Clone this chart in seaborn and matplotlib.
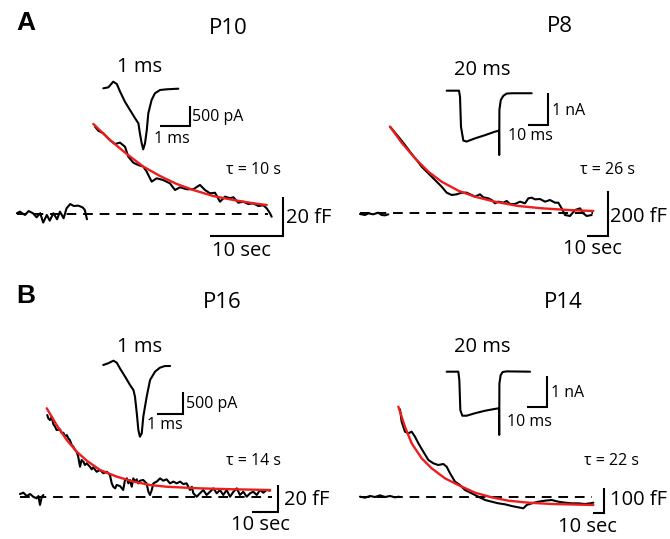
import matplotlib
matplotlib.use("Agg")
import matplotlib.pyplot as plt
import seaborn as sns

# ---------------------------------------------------------------
# Data (time in s, capacitance change in fF;
# inset currents: time in ms, current in pA or nA)
# ---------------------------------------------------------------

# P10
p10_pre_t = [-10.7, -10.3, -9.6, -9.1, -8.5, -8.0, -7.5, -7.1, -6.6, -6.2, -5.7,
             -5.2, -4.8, -4.3, -3.9, -3.4, -2.9, -2.3, -1.7, -1.4, -1.1]
p10_pre_c = [0.4, 1.2, -0.5, 1.5, 0.4, -1.7, 0.4, -4.4, -0.5, -3.4, 0.4,
             -2.7, 1.2, -2.2, 2.9, 5.1, 4.1, 4.3, 3.4, 2.1, -2.7]
p10_t = [0, 0.45, 1.14, 2.05, 2.74, 3.42, 4.11, 4.56, 5.25, 5.93, 6.62, 7.08, 7.76,
         8.45, 9.36, 10.27, 10.96, 11.64, 12.56, 13.47, 14.38, 15.07, 15.75, 16.44,
         17.12, 17.81, 18.49, 18.95, 19.63, 20.32, 21.0, 21.68, 22.37, 23.05, 23.52,
         23.97, 24.2]
p10_c = [44.8, 42.7, 41.4, 37.9, 35.9, 36.6, 34.5, 29.4, 26.3, 25.1, 24.3, 21.7, 16.6,
         18.3, 17.4, 15.7, 12.3, 13.7, 12.7, 12.7, 14.9, 12.3, 10.6, 10.9,
         6.3, 8.9, 8.1, 8.6, 5.8, 6.3, 5.1, 5.5, 4.1, 4.5, 2.9, 0.4, -1.4]
p10_fit_t = [-0.23, 2.05, 4.34, 6.62, 8.9, 11.19, 13.47, 16.21, 18.95, 21.68, 23.52]
p10_fit_c = [46.2, 37.9, 30.8, 24.3, 19.5, 15.4, 12.3, 9.2, 7.2, 5.5, 4.6]
p10_ins_t = [0.01, 0.18, 0.34, 0.46, 0.57, 0.73, 0.9, 1.07, 1.18, 1.23, 1.29, 1.34,
             1.4, 1.46, 1.51, 1.62, 1.73, 1.9, 2.12, 2.51]
p10_ins_i = [-8, 17, 158, 100, -92, -342, -550, -758, -883, -1133, -1383, -1533,
             -1383, -1050, -633, -300, -133, -50, -33, -17]

# P8
p8_pre_t = [-14.3, -11.9, -10.3, -8.0, -5.6, -4.0, -2.4, -0.8]
p8_pre_c = [-4.4, -8.9, -1.5, -5.9, 1.5, -8.9, -10.4, -5.9]
p8_t = [0, 1.59, 3.97, 7.14, 10.32, 12.7, 15.08, 17.46, 19.84, 22.22, 24.6, 26.98,
        29.37, 31.75, 34.13, 36.51, 38.89, 40.48, 42.86, 44.44, 46.83, 48.41, 50.0,
        51.59, 53.97, 55.56, 57.14, 59.52, 61.9, 64.29, 65.87, 67.46, 69.05, 71.43,
        73.81, 76.19, 78.57, 80.16, 81.75, 83.33, 85.71, 88.1, 90.48, 92.06, 93.65,
        96.03]
p8_c = [383.6, 365.9, 339.3, 302.2, 262.2, 235.6, 205.9, 183.7, 161.5, 139.3, 117.0,
        90.4, 80.0, 83.0, 90.4, 90.4, 80.0, 72.6, 83.0, 69.6, 65.2, 57.8, 43.0, 50.4,
        45.9, 53.3, 40.0, 40.0, 50.4, 43.0, 65.2, 68.1, 60.7, 62.2, 50.4, 57.8, 45.9,
        45.9, 20.7, -8.9, -13.3, 13.3, 20.7, -1.5, -13.3, -8.9]
p8_fit_t = [0, 5.56, 11.9, 18.25, 24.6, 32.54, 40.48, 50.0, 61.11, 72.22, 84.92, 96.83]
p8_fit_c = [383.6, 312.4, 243.1, 183.6, 139.1, 99.1, 72.4, 50.2, 31.1, 20.9, 13.3, 8.9]
p8_ins_t = [-0.17, 6.0, 6.5, 7.0, 8.17, 9.83, 14.0, 19.0, 24.0, 26.0, 26.1, 26.2,
            26.9, 28.17, 29.83, 32.5, 42.33]
p8_ins_i = [0.01, 0.01, -0.18, -1.12, -1.55, -1.58, -1.48, -1.38, -1.27, -1.24, -2.0,
            -0.59, -0.28, -0.15, -0.08, -0.07, -0.07]

# P16
p16_pre_t = [-10.4, -9.1, -7.8, -6.5, -5.3, -4.0, -3.3, -2.7, -2.0, -1.4]
p16_pre_c = [2.2, 3.2, 0.7, 2.2, 0.2, -1.0, 0.7, -5.9, 0.2, 1.5]
p16_t = [0.1, 0.5, 1.15, 1.8, 2.4, 3.1, 3.7, 5.0, 5.7, 6.3, 6.9, 7.6, 8.2, 8.8, 9.5,
         10.1, 10.8, 11.4, 12.0, 12.7, 13.3, 14.0, 14.6, 15.3, 16.5, 17.2, 17.8, 19.1,
         20.4, 21.7, 23.0, 24.2, 24.9, 25.5, 26.2, 26.8, 28.1, 29.3, 30.0, 30.7, 31.3,
         31.9, 32.6, 33.2, 33.8, 34.5, 35.1, 35.8, 37.0, 38.3, 39.0, 39.6, 40.3, 40.9,
         42.2, 43.5, 44.7, 46.0, 47.3, 48.6, 49.9, 51.2, 52.4, 53.7, 55.0, 55.7, 56.3,
         57.6, 58.8, 60.1, 61.4, 62.7, 64.0, 65.3, 66.5, 67.8, 69.1, 70.4, 71.7, 73.0,
         74.2, 75.5, 76.8, 78.1, 79.3, 80.7, 81.9, 83.2, 84.5, 85.8]
p16_c = [60.7, 58.3, 57.0, 59.5, 54.1, 52.1, 49.6, 50.1, 47.2, 47.6, 44.7, 45.9, 43.5,
         42.2, 38.5, 37.3, 34.8, 33.6, 29.9, 22.4, 27.4, 26.1, 23.7, 25.0, 22.4, 20.5,
         22.0, 18.7, 20.0, 17.6, 18.7, 16.3, 10.1, 7.6, 6.4, 8.9, 8.1, 5.2, 12.6, 13.8,
         10.1, 12.6, 7.6, 13.8, 11.4, 13.1, 10.1, 12.1, 12.6, 10.1, 3.9, 1.5, 5.2, 10.1,
         11.4, 13.8, 12.1, 13.1, 10.1, 11.4, 10.1, 11.4, 9.6, 10.1, 5.2, 7.6, 2.7, 0.2,
         2.7, 5.2, 1.5, 3.9, 6.4, 2.7, 5.2, 1.5, 5.2, 0.2, 3.9, 6.4, 1.5, 3.9, 0.2, 2.7,
         3.9, 1.5, 5.2, 3.2, 5.2, 4.7]
p16_fit_t = [-0.1, 3.7, 7.6, 11.4, 15.3, 20.4, 26.8, 33.2, 39.6, 46.0, 58.8, 71.7, 85.8]
p16_fit_c = [65.7, 53.3, 42.2, 33.6, 26.9, 20.0, 15.1, 11.4, 8.9, 7.6, 6.4, 5.7, 5.2]
p16_ins_t = [0.01, 0.2, 0.4, 0.53, 0.65, 0.85, 1.04, 1.17, 1.23, 1.3, 1.36, 1.42,
             1.49, 1.55, 1.68, 1.81, 2.0, 2.19, 2.38, 2.58]
p16_ins_i = [0, 39, 98, 52, -75, -266, -455, -568, -720, -1098, -1477, -1629,
             -1553, -1174, -720, -341, -152, -61, -23, -23]

# P14
p14_pre_t = [-36.4, -31.8, -27.3, -22.7, -18.2, -13.6, -9.1, -4.5, -0.9]
p14_pre_c = [1.3, -2.7, 4.0, 0, 6.7, 0, 4.0, -1.3, 1.3]
p14_t = [0, 1.5, 4.5, 7.6, 10.6, 13.6, 16.7, 21.2, 25.8, 30.3, 34.8, 39.4, 42.4,
         45.5, 50.0, 54.5, 59.1, 65.2, 71.2, 77.3, 83.3, 89.4, 95.5, 101.5, 107.6,
         112.1, 115.2, 119.7, 125.8, 131.8, 137.9, 143.9, 150.0, 156.1, 162.1, 168.2,
         172.7, 175.8]
p14_c = [350.7, 301.3, 261.3, 254.7, 261.3, 241.3, 214.7, 181.3, 148.0, 134.7, 128.0,
         132.0, 121.3, 94.7, 61.3, 48.0, 28.0, 14.7, 1.3, -12.0, -18.7, -25.3, -29.3,
         -36.0, -41.3, -45.3, -32.0, -25.3, -18.7, -14.7, -12.0, -18.7, -22.7, -25.3,
         -25.3, -28.0, -25.3, -22.7]
p14_fit_t = [-1.5, 4.5, 10.6, 19.7, 28.8, 40.9, 53.0, 68.2, 83.3, 98.5, 116.7, 137.9, 175.8]
p14_fit_c = [361.3, 281.3, 214.7, 154.7, 114.7, 74.7, 48.0, 17.3, -1.3, -14.7, -22.7,
             -28.0, -32.0]
p14_ins_t = [-0.17, 5.67, 6.17, 6.67, 7.67, 9.83, 14.0, 19.0, 24.0, 26.0, 26.1, 26.2,
             26.83, 27.83, 29.83, 41.5]
p14_ins_i = [0.01, 0.01, -0.26, -1.23, -1.41, -1.41, -1.33, -1.25, -1.19, -1.17, -2.03,
             -0.37, -0.1, 0, 0.02, 0.01]

titles = ["P10", "P8", "P16", "P14"]
taus = ["τ = 10 s", "τ = 26 s", "τ = 14 s", "τ = 22 s"]
cap_bars = ["20 fF", "200 fF", "20 fF", "100 fF"]
cap_bar_size = [20, 200, 20, 100]
cur_bars = ["500 pA", "1 nA", "500 pA", "1 nA"]
cur_bar_size = [500, 1, 500, 1]
cur_time_bars = ["1 ms", "10 ms", "1 ms", "10 ms"]
cur_time_size = [1, 10, 1, 10]
ins_titles = ["1 ms", "20 ms", "1 ms", "20 ms"]
time_bar_size = 10

# ---------------------------------------------------------------
# Layout (pixels of the 670 x 539 image)
# ---------------------------------------------------------------
W, H = 670, 539
sns.set_theme(style="white")
plt.rcParams["font.family"] = ["Open Sans", "DejaVu Sans"]
plt.rcParams["text.color"] = "black"

fig = plt.figure(figsize=(W / 100, H / 100), dpi=100)


def px_axes(box, origin, scale):
    # axes whose data (0, 0) sits at pixel `origin`, with `scale` px per unit
    left, top, right, bottom = box
    ox, oy = origin
    sx, sy = scale
    ax = fig.add_axes([left / W, 1 - bottom / H, (right - left) / W, (bottom - top) / H])
    ax.set_xlim((left - ox) / sx, (right - ox) / sx)
    ax.set_ylim((oy - bottom) / sy, (oy - top) / sy)
    ax.axis("off")
    ax.patch.set_alpha(0)
    return ax


def label(x, y, s, size=13, ha="center", **kw):
    fig.text(x / W, 1 - y / H, s, fontsize=size, ha=ha, va="center",
             color="black", **kw)


def trace(ax, t, y, color="black", lw=1.5):
    sns.lineplot(x=t, y=y, ax=ax, color=color, lw=lw, sort=False,
                 estimator=None, legend=False)


def scalebar(ax, corner, dx, dy, lw=1.5):
    cx, cy = corner
    ax.plot([cx - dx, cx, cx], [cy, cy, cy + dy], color="black", lw=lw,
            solid_joinstyle="miter", solid_capstyle="butt")


panels = [
    dict(box=(0, 0, 335, 270), origin=(95, 214), scale=(7.3, 1.95),
         pre=(p10_pre_t, p10_pre_c), dec=(p10_t, p10_c), fit=(p10_fit_t, p10_fit_c),
         base=(-10.7, 23.7), bar=(25.75, -11.3),
         ins_origin=(103, 88), ins_scale=(30, 0.04), ins=(p10_ins_t, p10_ins_i),
         ins_bar=(2.9, -950)),
    dict(box=(335, 0, 670, 270), origin=(390, 213), scale=(2.1, 0.225),
         pre=(p8_pre_t, p8_pre_c), dec=(p8_t, p8_c), fit=(p8_fit_t, p8_fit_c),
         base=(-14.3, 96.5), bar=(103.8, -102.2),
         ins_origin=(447, 91), ins_scale=(2, 32), ins=(p8_ins_t, p8_ins_i),
         ins_bar=(50.5, -1.06)),
    dict(box=(0, 270, 335, 539), origin=(47, 497), scale=(2.6, 1.35),
         pre=(p16_pre_t, p16_pre_c), dec=(p16_t, p16_c), fit=(p16_fit_t, p16_fit_c),
         base=(-10.4, 86.5), bar=(88.8, -11.1),
         ins_origin=(103, 365), ins_scale=(26, 0.044), ins=(p16_ins_t, p16_ins_i),
         ins_bar=(3.08, -1114)),
    dict(box=(335, 270, 670, 539), origin=(400, 497), scale=(1.1, 0.25),
         pre=(p14_pre_t, p14_pre_c), dec=(p14_t, p14_c), fit=(p14_fit_t, p14_fit_c),
         base=(-36.4, 174.5), bar=(185.5, -64),
         ins_origin=(447, 372), ins_scale=(2, 31), ins=(p14_ins_t, p14_ins_i),
         ins_bar=(50, -1.13)),
]

for i, p in enumerate(panels):
    ax = px_axes(p["box"], p["origin"], p["scale"])
    ax.plot(p["base"], [0, 0], color="black", lw=1.4, ls=(0, (5, 3.5)))
    trace(ax, *p["pre"])
    trace(ax, *p["dec"])
    trace(ax, *p["fit"], color="#ee1c1c", lw=1.7)
    scalebar(ax, p["bar"], time_bar_size, cap_bar_size[i])
    ax.set_xlabel("")
    ax.set_ylabel("")

    ins = px_axes(p["box"], p["ins_origin"], p["ins_scale"])
    trace(ins, *p["ins"])
    scalebar(ins, p["ins_bar"], cur_time_size[i], cur_bar_size[i])
    ins.set_xlabel("")
    ins.set_ylabel("")

# panel letters and titles
label(26, 23, "A", size=19, family=["Liberation Sans", "DejaVu Sans"], weight="bold")
label(26, 296, "B", size=19, family=["Liberation Sans", "DejaVu Sans"], weight="bold")
for (x, y), s in zip([(228, 28), (560, 27), (222, 302), (563, 302)], titles):
    label(x, y, s, size=16)

# inset titles and current scale labels
for (x, y), s in zip([(140, 67), (482, 70), (140, 347), (482, 347)], ins_titles):
    label(x, y, s, size=14.5)
for (x, y), s in zip([(192, 117), (552, 111), (186, 404), (551, 393)], cur_bars):
    label(x, y, s, size=11.5, ha="left")
for (x, y), s in zip([(154, 139), (508, 136), (147, 425), (507, 422)], cur_time_bars):
    label(x, y, s, size=11.5, ha="left")

# time constants and capacitance scale labels
for (x, y), s in zip([(254, 170), (608, 170), (253, 461), (612, 461)], taus):
    label(x, y, s, size=11.5)
for (x, y), s in zip([(286, 218), (610, 217), (284, 500), (610, 500)], cap_bars):
    label(x, y, s, size=14.5, ha="left")
for x, y in [(241, 251), (592, 249), (260, 525), (587, 527)]:
    label(x, y, "10 sec", size=14.5)

fig.savefig("out.png", dpi=100)
